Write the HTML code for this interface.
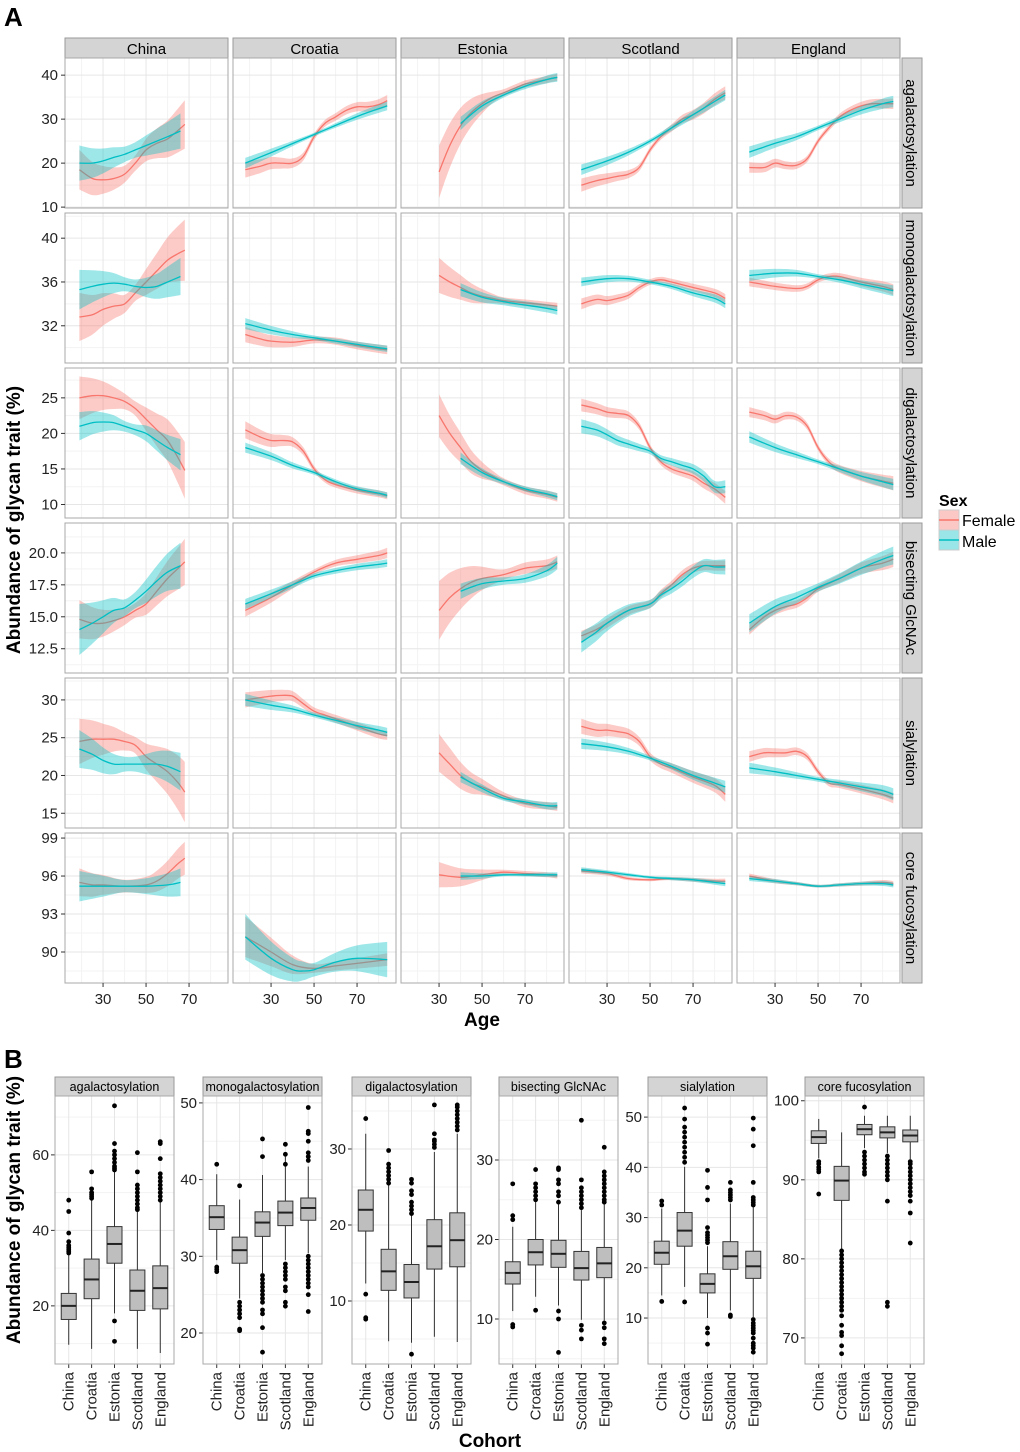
<!DOCTYPE html>
<html><head><meta charset="utf-8">
<style>
html,body{margin:0;padding:0;background:#fff;}
svg{display:block;font-family:"Liberation Sans",Arial,sans-serif;}
</style></head>
<body>
<svg id="fig" width="1020" height="1452" viewBox="0 0 1020 1452" xmlns="http://www.w3.org/2000/svg">
<text x="4" y="26" font-size="26" font-weight="bold">A</text>
<text x="4" y="1068" font-size="26" font-weight="bold">B</text>
<text transform="translate(20,520) rotate(-90)" text-anchor="middle" font-size="19" font-weight="bold">Abundance of glycan trait (%)</text>
<text x="482" y="1026" text-anchor="middle" font-size="19" font-weight="bold">Age</text>
<text transform="translate(20,1210) rotate(-90)" text-anchor="middle" font-size="19" font-weight="bold">Abundance of glycan trait (%)</text>
<text x="490" y="1447" text-anchor="middle" font-size="19" font-weight="bold">Cohort</text>
<g>
<text x="939" y="506" font-size="16" font-weight="bold">Sex</text>
<g>
<rect x="939" y="510" width="20" height="20" fill="rgba(248,118,109,0.4)" stroke="#ccc"/>
<line x1="939" y1="520" x2="959" y2="520" stroke="#F8766D" stroke-width="1.5"/>
<text x="962" y="526" font-size="16">Female</text></g>
<g>
<rect x="939" y="530" width="20" height="20" fill="rgba(0,191,196,0.4)" stroke="#ccc"/>
<line x1="939" y1="540" x2="959" y2="540" stroke="#00BFC4" stroke-width="1.5"/>
<text x="962" y="547" font-size="16">Male</text></g>
</g>
<g id="partA"></g>
<g id="partB"></g>
</svg>
<script>
// ---------- Panel A data ----------
const cohorts = ["China","Croatia","Estonia","Scotland","England"];
const traits = ["agalactosylation","monogalactosylation","digalactosylation","bisecting GlcNAc","sialylation","core fucosylation"];
const ageTicks = [30,50,70];
const rowTicks = [[10,20,30,40],[32,36,40],[10,15,20,25],[12.5,15.0,17.5,20.0],[15,20,25,30],[90,93,96,99]];
const rowDomains = [[9.8,43.9],[28.6,42.3],[8.1,29.2],[10.6,22.34],[13.05,32.9],[87.55,99.4]];

// female curves [age,value] per row, per cohort
const agalF = [[[19,18.5],[25,16.5],[30,16.2],[35,16.5],[40,17.5],[45,20],[50,23],[55,24.5],[60,25.5],[65,27.5],[68,28.8]],
 [[18,18.5],[25,19.3],[30,20],[35,20],[40,20],[45,21.5],[50,26],[55,29],[60,30.5],[65,32],[70,32.8],[75,32.8],[80,33.3],[84,34.2]],
 [[30,18],[35,24],[40,28.5],[45,31.5],[50,33.5],[55,35],[60,36],[65,37],[70,38],[75,38.5],[80,39],[85,39.5]],
 [[18,15],[25,16],[30,16.5],[35,17],[40,17.5],[45,19],[50,23],[55,26],[60,28],[65,30],[70,31],[75,32.5],[80,34.5],[85,36]],
 [[18,19],[25,19],[30,20],[35,19.5],[40,19.5],[45,21],[50,25],[55,28],[60,30.5],[65,32],[70,33],[75,33.5],[80,33.5],[85,33.5]]];
const agalM = [[[19,20],[25,20],[30,20.5],[35,21.3],[40,22],[45,23],[50,24],[55,25],[60,26],[66,27.3]],
 [[18,20],[30,22.4],[50,26.5],[70,30.6],[84,33]],
 [[40,29],[50,33],[60,35.5],[70,37.5],[80,39],[85,39.5]],
 [[18,18.5],[30,20.5],[40,22.5],[50,25],[60,28],[70,31],[80,34],[85,35.5]],
 [[18,22.5],[30,24.5],[40,26],[50,28],[60,30],[70,32],[80,33.5],[85,34]]];
const monoF = [[[19,32.8],[25,33],[30,33.5],[35,33.8],[40,34],[45,35],[50,36],[55,37],[60,38],[65,38.6],[68,38.9]],
 [[18,31.2],[25,30.8],[30,30.6],[40,30.5],[50,30.7],[60,30.6],[70,30.2],[80,29.9],[84,29.8]],
 [[30,36.6],[35,36],[40,35.5],[45,35],[50,34.7],[55,34.5],[60,34.3],[70,34.1],[80,33.9],[85,33.8]],
 [[18,34],[25,34.4],[30,34.3],[35,34.5],[40,34.8],[45,35.5],[50,36],[55,36.2],[60,36],[70,35.5],[80,35],[85,34.5]],
 [[18,36],[30,35.6],[40,35.4],[45,35.6],[50,36.2],[55,36.5],[60,36.5],[70,36],[80,35.6],[85,35.3]]];
const monoM = [[[19,35.3],[25,35.6],[30,35.8],[35,35.9],[40,35.8],[45,35.6],[50,35.5],[55,35.6],[60,36],[66,36.5]],
 [[18,32.2],[30,31.6],[40,31.2],[50,30.9],[60,30.6],[70,30.3],[80,30],[84,29.9]],
 [[40,35.3],[50,34.6],[60,34.2],[70,33.9],[80,33.6],[85,33.4]],
 [[18,36],[30,36.3],[40,36.3],[50,36],[60,35.6],[70,35],[80,34.5],[85,34]],
 [[18,36.6],[30,36.8],[40,36.8],[50,36.5],[60,36.2],[70,35.8],[80,35.4],[85,35.2]]];
const digalF = [[[19,25],[25,25.3],[30,25.3],[35,25],[40,24.5],[45,23.5],[50,22],[55,20.5],[60,19],[65,16.5],[68,14.8]],
 [[18,20.5],[25,19.5],[30,19],[35,19],[40,18.8],[45,17.5],[50,15],[55,13.5],[60,12.8],[70,12],[80,11.5],[84,11.2]],
 [[30,22.5],[35,20],[40,18],[45,16],[50,14.8],[55,14],[60,13.2],[70,12],[80,11.4],[85,11]],
 [[18,24],[25,23.5],[30,23],[35,22.8],[40,22.5],[45,21],[50,18],[55,16],[60,15],[65,14.5],[70,14],[75,13],[80,12.2],[85,11]],
 [[18,23],[25,22.5],[30,22],[35,22.5],[40,22.3],[45,21],[50,18],[55,16],[60,15],[70,14],[80,13.3],[85,13]]];
const digalM = [[[19,21],[25,21.5],[30,21.6],[35,21.5],[40,21],[45,20.5],[50,20],[55,19],[60,18],[66,17]],
 [[18,18],[30,16.8],[40,15.5],[50,14.5],[60,13.2],[70,12.2],[80,11.6],[84,11.3]],
 [[40,16.5],[50,14.5],[60,13.2],[70,12.2],[80,11.5],[85,11.1]],
 [[18,21],[25,20.5],[30,19.8],[35,19],[40,18.5],[45,18],[50,17.5],[55,16.5],[60,16],[65,15.5],[70,15],[75,14],[80,12.5],[85,12.5]],
 [[18,19.5],[30,18],[40,17],[50,16],[60,15],[70,14],[80,13.2],[85,12.8]]];
const bisF = [[[19,14.8],[25,14.5],[30,14.5],[35,14.7],[40,15],[45,15.5],[50,16],[55,17],[60,18],[65,18.8],[68,19.3]],
 [[18,15.5],[30,16.5],[40,17.5],[50,18.5],[60,19.2],[70,19.5],[80,19.8],[84,20]],
 [[30,15.5],[35,16.5],[40,17.2],[45,17.7],[50,18],[60,18.3],[70,18.8],[80,19],[85,19.3]],
 [[18,13.5],[25,14],[30,14.5],[40,15.5],[50,16],[55,16.8],[60,17.5],[65,18.3],[70,18.8],[75,19],[80,19],[85,19]],
 [[18,14],[25,15],[30,15.5],[35,15.8],[40,16],[45,16.5],[50,17.2],[60,18],[70,18.8],[80,19.2],[85,19.5]]];
const bisM = [[[19,14],[25,14.5],[30,15],[35,15.5],[40,15.7],[45,16.3],[50,17],[55,17.8],[60,18.5],[66,19]],
 [[18,16],[30,16.8],[40,17.5],[50,18.2],[60,18.6],[70,18.9],[80,19.1],[84,19.2]],
 [[40,17],[50,17.6],[60,17.8],[70,18],[80,18.6],[85,19.2]],
 [[18,13],[25,13.8],[30,14.5],[40,15.5],[50,16],[55,16.7],[60,17.2],[65,17.8],[70,18.5],[75,19],[80,18.9],[85,18.9]],
 [[18,14.5],[30,15.8],[40,16.5],[50,17.3],[60,18],[70,18.8],[80,19.5],[85,19.8]]];
const sialF = [[[19,24.5],[25,24.8],[30,24.8],[35,24.8],[40,24.5],[45,24],[50,22.5],[55,21.5],[60,20.5],[65,19],[68,17.8]],
 [[18,30],[25,30.3],[30,30.5],[35,30.6],[40,30.5],[45,29.5],[50,28.5],[55,28],[60,27.5],[70,26.5],[80,25.5],[84,25.3]],
 [[30,23],[35,21.5],[40,20],[45,19],[50,18.5],[60,17.3],[70,16.3],[80,16],[85,15.8]],
 [[18,26.5],[25,26],[30,26],[35,25.8],[40,25.5],[45,24.5],[50,22.5],[55,21.5],[60,21],[70,19.8],[80,18.7],[85,17.5]],
 [[18,22.5],[25,23],[30,23],[35,23],[40,23.2],[45,22.5],[50,20.5],[55,19],[60,18.8],[70,18.2],[80,17.5],[85,17]]];
const sialM = [[[19,23.5],[25,22.8],[30,22],[35,21.5],[40,21.5],[45,21.5],[50,21.5],[55,21.5],[60,21.2],[66,20.5]],
 [[18,30],[30,29.3],[40,28.8],[50,28],[60,27.3],[70,26.6],[80,26],[84,25.7]],
 [[40,19.8],[50,18.3],[60,17],[70,16.5],[80,16],[85,16]],
 [[18,24.2],[30,23.8],[40,23.2],[50,22.3],[60,21.2],[70,20],[80,19],[85,18.5]],
 [[18,21],[30,20.5],[40,20],[50,19.5],[60,19],[70,18.5],[80,18],[85,17.5]]];
const fucF = [[[19,95.5],[25,95.3],[30,95.3],[40,95.2],[50,95.3],[55,95.6],[60,96.2],[65,97],[68,97.4]],
 [[18,91.2],[30,90],[40,89],[50,88.7],[60,88.9],[70,89.1],[84,89.4]],
 [[30,96.1],[40,95.9],[50,96.1],[60,96.3],[70,96.2],[80,96.1],[85,96]],
 [[18,96.4],[30,96.2],[40,95.8],[50,95.7],[60,95.8],[70,95.7],[80,95.6],[85,95.6]],
 [[18,96],[30,95.6],[40,95.4],[50,95.2],[60,95.3],[70,95.4],[80,95.5],[85,95.4]]];
const fucM = [[[19,95.2],[30,95.2],[40,95.2],[50,95.2],[60,95.3],[66,95.5]],
 [[18,91.2],[30,89.5],[40,88.6],[45,88.5],[50,88.6],[60,89.2],[70,89.5],[84,89.4]],
 [[40,96],[50,96],[60,96.1],[70,96.1],[80,96.1],[85,96.1]],
 [[18,96.5],[30,96.3],[40,96.1],[50,95.9],[60,95.8],[70,95.7],[80,95.5],[85,95.4]],
 [[18,95.8],[30,95.6],[40,95.4],[50,95.2],[60,95.3],[70,95.4],[80,95.4],[85,95.3]]];
// ribbon half-widths [start, middle, end] per cohort
const seF = [[[4.5,1.5,5.5],[1.8,0.7,1.3],[6,0.8,0.8],[1.5,0.6,1.5],[1.2,0.6,1.2]],
 [[2.2,0.6,2.8],[0.7,0.3,0.4],[1.6,0.3,0.3],[0.5,0.25,0.4],[0.4,0.25,0.5]],
 [[3,0.8,4],[1.2,0.4,0.5],[3,0.5,0.6],[0.9,0.4,0.9],[0.7,0.4,1]],
 [[1.5,0.5,1.8],[0.5,0.2,0.4],[2.3,0.4,0.5],[0.4,0.3,0.4],[0.4,0.25,0.6]],
 [[3,0.9,4],[1,0.5,0.6],[2.5,0.5,0.5],[1,0.5,1],[0.7,0.4,0.7]],
 [[1.1,0.4,1.3],[1.6,0.3,0.5],[1,0.2,0.2],[0.2,0.1,0.2],[0.2,0.1,0.2]]];
const seM = [[[4,1.5,4],[1.2,0.4,1],[1.5,0.5,1],[1.2,0.5,1.2],[1.3,0.5,1.3]],
 [[1.8,0.5,1.7],[0.5,0.2,0.3],[0.6,0.3,0.4],[0.4,0.2,0.4],[0.5,0.2,0.5]],
 [[2,0.6,2.2],[0.7,0.3,0.4],[0.8,0.3,0.5],[1,0.4,0.9],[0.8,0.3,0.8]],
 [[2,0.5,1.8],[0.4,0.2,0.3],[0.6,0.25,0.5],[0.8,0.3,0.6],[0.7,0.3,0.7]],
 [[2.5,0.8,2.5],[0.8,0.3,0.6],[0.7,0.3,0.5],[0.7,0.3,0.8],[0.7,0.3,0.8]],
 [[1.2,0.4,1.1],[1.8,0.5,1.4],[0.3,0.1,0.2],[0.2,0.1,0.2],[0.2,0.1,0.2]]];
const femaleRows = [agalF, monoF, digalF, bisF, sialF, fucF];
const maleRows = [agalM, monoM, digalM, bisM, sialM, fucM];

// ---------- Panel B data ----------
const cohortLabels = ["China","Croatia","Estonia","Scotland","England"];
const boxTraits = ["agalactosylation","monogalactosylation","digalactosylation","bisecting GlcNAc","sialylation","core fucosylation"];
const boxTicks = [[20,40,60],[20,30,40,50],[10,20,30],[10,20,30],[10,20,30,40,50],[70,80,90,100]];
const boxDomains = [[4.6,75.6],[15.96,50.9],[1.71,36.97],[4.34,38.05],[0.85,54.2],[66.7,100.6]];
// [low whisker, q1, median, q3, high whisker]
const agalBox = [[9.7,16.4,20,23.3,34],[8.6,21.9,27,32.4,48.2],[18,31.3,36.4,41,58],[8.6,18.8,24,29.5,45],[7.5,19.2,24.7,30.6,49]];
const monoBox = [[29.5,33.5,35.1,36.6,40.7],[24.5,29.1,30.8,32.5,37.4],[27.8,32.6,34.4,35.8,40.6],[29.5,34,35.7,37.2,43],[30.4,34.7,36.3,37.6,41.7]];
const digalBox = [[12.3,19.2,22,24.6,32],[4.7,11.4,13.9,16.8,25.5],[4.5,10.4,12.5,14.8,21.5],[5.3,14.2,17.2,20.7,29.6],[4.6,14.5,18,21.6,32]];
const bisBox = [[11,14.4,15.8,17.2,21.6],[12.8,16.8,18.4,20,24.8],[11.7,16.5,18.2,19.9,24.6],[9.9,14.9,16.4,18.5,23.7],[9.8,15.2,17,19,24.6]];
const sialBox = [[14.5,20.7,23,25.3,31.8],[16.2,24.3,27.4,31,40.1],[10,15,16.8,18.8,24.3],[11.5,19.7,22.3,25.2,32.8],[10.2,17.9,20.3,23.3,32.2]];
const fucBox = [[92.7,94.6,95.4,96.2,97.7],[81.1,87.4,89.9,91.7,96],[94,95.7,96.4,97,98.1],[93.4,95.3,96,96.7,98.1],[92.6,94.8,95.6,96.3,98.1]];
const agalOut = [[34,34.5,35,35.5,36,37,39.3,45,48],[48.5,49,49.5,50,51,55.5],[56,56.5,57,58,59,60,61,63,73,16,10.6],[45.5,46,47,48,49,50,51,52,55.5,60.6],[48,49,50,51,52,53,54,55,59,63,63.5]];
const monoOut = [[28,28.3,28.6,42],[22,22.5,23,23.5,24,20.3,20.5,39.2],[27.5,27,26.5,26,25.5,25,24.5,24,23,22.5,20.7,17.5,43,45.3],[42,43.3,44.6,29,28.5,28,27.5,27,26,25.5,24,23.5],[42.5,43,43.5,45,46,46.3,49.4,30,29.5,29,28.5,28,27.5,27,26.5,26,25,22.8]];
const digalOut = [[10.9,7.8,7.6,34],[25.5,26,26.5,27,27.5,28,29.8],[21.5,22,22.5,23,24,24.5,25.5,26,3],[30.2,30.6,31,31.2,32,35.8],[32.5,33,33.5,34,34.5,35,35.5,35.8]];
const bisOut = [[9,9.3,22.5,23,27],[25,25.5,26,26.5,27,28.8,11.1],[24.7,25.5,26,27,27.5,28.8,29,11,10,5.8],[24,24.5,25,25.5,26,26.5,27.5,35,9.2,8.6,7.5],[24.7,25,25.5,26,26.5,27,27.5,28,28.5,31.6,9.5,8.9,7.5,6.9]];
const sialOut = [[32.5,33.3,13.3],[41,42,43,44,45,46,47,48,49.6,51.8,13.2],[25,25.5,26,26.5,27,28,33.5,36,39.4,8,7,4.8],[33.5,34,34.5,35,35.5,37,10.6,10.3],[32.5,33,33.5,34,37,44.3,47.6,49.8,9.7,9,8.5,8,7.5,7,6,5,4.5,4,3.2]];
const fucOut = [[91,91.3,91.6,92,92.3,88.2],[68,69,70.3,70.7,71.6,72.8,73.5,74,74.5,75,75.5,76,76.5,77,77.5,78,78.5,79,79.5,80,80.5,81],[90.7,91,91.5,92,92.5,93,93.5,99.2],[90,90.5,91,91.5,92,92.5,93,87.3,74.5,74],[87.3,88,88.5,89,89.5,90,90.5,91,91.5,92,92.3,85.8,82]];
const boxRows = [agalBox, monoBox, digalBox, bisBox, sialBox, fucBox];
const outRows = [agalOut, monoOut, digalOut, bisOut, sialOut, fucOut];

// ---------- drawing ----------
const NS = "http://www.w3.org/2000/svg";
function mk(tag, attrs, parent){ const e=document.createElementNS(NS,tag); for(const k in attrs) e.setAttribute(k,attrs[k]); if(parent) parent.appendChild(e); return e; }
function txt(parent,x,y,s,attrs){ const t=mk("text",Object.assign({x:x,y:y},attrs),parent); t.textContent=s; return t; }
function smoothPath(pts){
  if(pts.length<2) return "";
  let d="M"+pts[0][0].toFixed(1)+","+pts[0][1].toFixed(1);
  for(let i=0;i<pts.length-1;i++){
    const p0=pts[i-1]||pts[i], p1=pts[i], p2=pts[i+1], p3=pts[i+2]||p2;
    const c1=[p1[0]+(p2[0]-p0[0])/6, p1[1]+(p2[1]-p0[1])/6];
    const c2=[p2[0]-(p3[0]-p1[0])/6, p2[1]-(p3[1]-p1[1])/6];
    d+="C"+c1[0].toFixed(1)+","+c1[1].toFixed(1)+" "+c2[0].toFixed(1)+","+c2[1].toFixed(1)+" "+p2[0].toFixed(1)+","+p2[1].toFixed(1);
  }
  return d;
}
function smoothCont(pts){ return smoothPath(pts).replace(/^M/,"L"); }

const A = document.getElementById("partA");
const colX=[65,233,401,569,737], PW=163, rowY=[58,213,368,523,678,833], PH=150;
const AGE0=12.3, PXY=2.15;
function xA(c,age){ return colX[c]+(age-AGE0)*PXY; }
function yA(r,v){ const d=rowDomains[r]; return rowY[r]+PH-(v-d[0])/(d[1]-d[0])*PH; }

// column strips
cohorts.forEach((c,i)=>{
  const g=mk("g",{},A);
  
  
  mk("rect",{x:colX[i],y:38,width:PW,height:20,fill:"#d4d4d4",stroke:"#9a9a9a","stroke-width":1},g);
  txt(g,colX[i]+PW/2,54,c,{"text-anchor":"middle","font-size":15});
});
traits.forEach((t,r)=>{
  const g=mk("g",{},A);
  
  
  mk("rect",{x:902,y:rowY[r],width:20,height:PH,fill:"#d4d4d4",stroke:"#9a9a9a","stroke-width":1},g);
  const tt=txt(g,0,0,t,{"text-anchor":"middle","font-size":15,transform:"translate("+(906)+","+(rowY[r]+PH/2)+") rotate(90)"});
});

function seAt(se,age,a0,a1){ const f=(age-a0)/(a1-a0); return f<0.5? se[0]+(se[1]-se[0])*(f*2) : se[1]+(se[2]-se[1])*((f-0.5)*2); }
function drawSeries(g,r,c,pts,se,col,fill,name){
  const a0=pts[0][0], a1=pts[pts.length-1][0];
  const up=pts.map(p=>[xA(c,p[0]),yA(r,p[1]+seAt(se,p[0],a0,a1))]);
  const lo=pts.map(p=>[xA(c,p[0]),yA(r,p[1]-seAt(se,p[0],a0,a1))]).reverse();
  const rib=mk("path",{d:smoothPath(up)+smoothCont(lo)+"Z",fill:fill,stroke:"none"},g);
  
  
  const ln=mk("path",{d:smoothPath(pts.map(p=>[xA(c,p[0]),yA(r,p[1])])),fill:"none",stroke:col,"stroke-width":1.3},g);
  
  
}

for(let r=0;r<6;r++){
  const d=rowDomains[r], tk=rowTicks[r];
  for(let c=0;c<5;c++){
    const g=mk("g",{},A);
    
    
    mk("rect",{x:colX[c],y:rowY[r],width:PW,height:PH,fill:"#fff"},g);
    // minor grid
    const step=tk[1]-tk[0];
    for(let v=tk[0]-step/2; v<=d[1]; v+=step){ if(v<d[0]) continue; const y=yA(r,v); mk("line",{x1:colX[c],x2:colX[c]+PW,y1:y,y2:y,stroke:"#f3f3f3","stroke-width":1},g); }
    [20,40,60,80].forEach(a=>{ const x=xA(c,a); mk("line",{x1:x,x2:x,y1:rowY[r],y2:rowY[r]+PH,stroke:"#f3f3f3","stroke-width":1},g); });
    tk.forEach(v=>{ const y=yA(r,v); mk("line",{x1:colX[c],x2:colX[c]+PW,y1:y,y2:y,stroke:"#e6e6e6","stroke-width":1},g); });
    ageTicks.forEach(a=>{ const x=xA(c,a); mk("line",{x1:x,x2:x,y1:rowY[r],y2:rowY[r]+PH,stroke:"#e6e6e6","stroke-width":1},g); });
    drawSeries(g,r,c,femaleRows[r][c],seF[r][c],"#F8766D","rgba(248,118,109,0.38)",'female-'+cohorts[c].toLowerCase()+'-row'+(r+1));
    drawSeries(g,r,c,maleRows[r][c],seM[r][c],"#00BFC4","rgba(0,191,196,0.38)",'male-'+cohorts[c].toLowerCase()+'-row'+(r+1));
    mk("rect",{x:colX[c],y:rowY[r],width:PW,height:PH,fill:"none",stroke:"#a8a8a8","stroke-width":1},g);
  }
  const ax=mk("g",{},A);
  
  
  tk.forEach(v=>{ const y=yA(r,v);
    mk("line",{x1:61,x2:65,y1:y,y2:y,stroke:"#333"},ax);
    txt(ax,58,y+5,r===3?v.toFixed(1):String(v),{"text-anchor":"end","font-size":15,fill:"#222"});
  });
}
for(let c=0;c<5;c++){
  const ax=mk("g",{},A);
  
  
  ageTicks.forEach(a=>{ const x=xA(c,a);
    mk("line",{x1:x,x2:x,y1:983,y2:987,stroke:"#333"},ax);
    txt(ax,x,1004,String(a),{"text-anchor":"middle","font-size":15,fill:"#222"});
  });
}

// ---------- Panel B ----------
const B=document.getElementById("partB");
const bX=[55,203,352,499,648,805], BW=119, BT=1096, BB=1364;
function yB(p,v){ const d=boxDomains[p]; return BB-(v-d[0])/(d[1]-d[0])*(BB-BT); }
const catStep=BW/5.2;
function xB(p,i){ return bX[p]+catStep*(0.6+i); }
for(let p=0;p<6;p++){
  const g=mk("g",{},B);
  
  
  mk("rect",{x:bX[p],y:1077,width:BW,height:19,fill:"#d4d4d4",stroke:"#9a9a9a"},g);
  txt(g,bX[p]+BW/2,1091,boxTraits[p],{"text-anchor":"middle","font-size":12.5});
  mk("rect",{x:bX[p],y:BT,width:BW,height:BB-BT,fill:"#fff"},g);
  const tk=boxTicks[p], st=tk[1]-tk[0], d=boxDomains[p];
  for(let v=tk[0]-st/2; v<=d[1]; v+=st){ if(v<d[0]) continue; const y=yB(p,v); mk("line",{x1:bX[p],x2:bX[p]+BW,y1:y,y2:y,stroke:"#f3f3f3"},g); }
  tk.forEach(v=>{ const y=yB(p,v); mk("line",{x1:bX[p],x2:bX[p]+BW,y1:y,y2:y,stroke:"#e6e6e6"},g);
    mk("line",{x1:bX[p]-4,x2:bX[p],y1:y,y2:y,stroke:"#333"},g);
    txt(g,bX[p]-6,y+5,String(v),{"text-anchor":"end","font-size":15,fill:"#222"}); });
  for(let i=0;i<5;i++){ const x=xB(p,i); mk("line",{x1:x,x2:x,y1:BT,y2:BB,stroke:"#e6e6e6"},g); }
  for(let i=0;i<5;i++){
    const x=xB(p,i), b=boxRows[p][i], hw=7.5;
    const bg=mk("g",{},g);
    
    
    mk("line",{x1:x,x2:x,y1:yB(p,b[0]),y2:yB(p,b[4]),stroke:"#333","stroke-width":1},bg);
    mk("rect",{x:x-hw,y:yB(p,b[3]),width:2*hw,height:yB(p,b[1])-yB(p,b[3]),fill:"#bebebe",stroke:"#333","stroke-width":1},bg);
    mk("line",{x1:x-hw,x2:x+hw,y1:yB(p,b[2]),y2:yB(p,b[2]),stroke:"#222","stroke-width":2},bg);
    outRows[p][i].forEach(v=>{ const o=mk("circle",{cx:x,cy:yB(p,v),r:2.4,fill:"#000"},bg);
      
       });
    mk("line",{x1:x,x2:x,y1:BB,y2:BB+4,stroke:"#333"},g);
    txt(g,0,0,cohortLabels[i],{"text-anchor":"end","font-size":15,fill:"#222",transform:"translate("+(x+5)+","+(BB+8)+") rotate(-90)"});
  }
  mk("rect",{x:bX[p],y:BT,width:BW,height:BB-BT,fill:"none",stroke:"#a8a8a8"},g);
}
</script>
</body></html>
